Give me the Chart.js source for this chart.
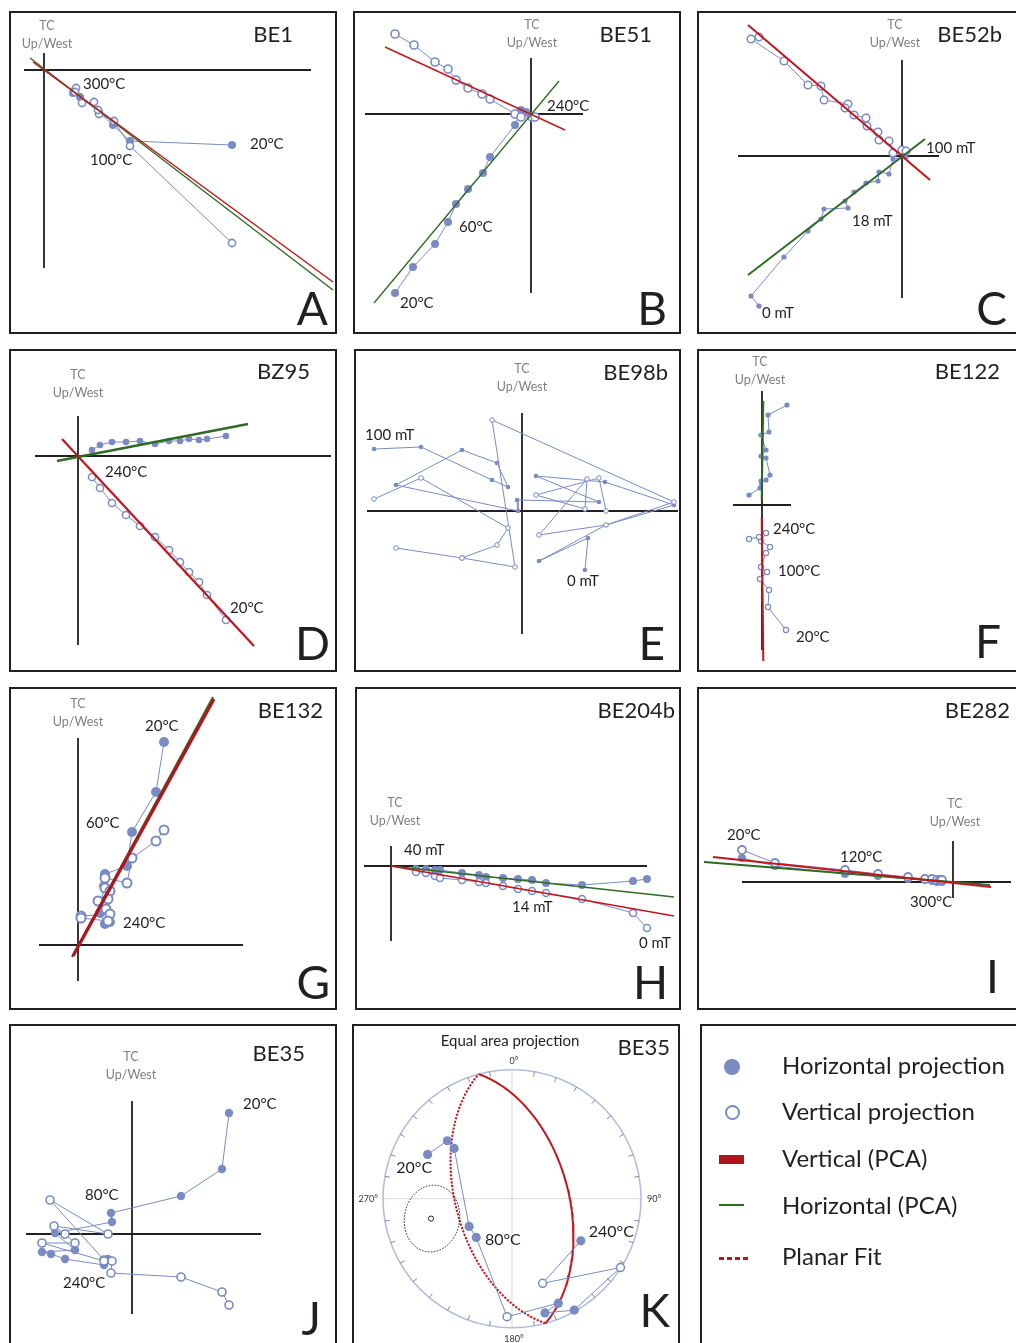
<!DOCTYPE html>
<html><head><meta charset="utf-8">
<script src="https://cdn.jsdelivr.net/npm/chart.js@4.4.1/dist/chart.umd.min.js"></script>
<style>
html,body{margin:0;padding:0;background:#fff;overflow:hidden;width:1016px;height:1343px;position:relative;}
.panel{position:absolute;overflow:hidden;}
.panel canvas{position:absolute;left:0;top:0;}
.frame{position:absolute;left:0;top:0;right:0;bottom:0;border:2px solid #231f20;box-sizing:border-box;pointer-events:none;}
.lg{position:absolute;left:82px;font:24px Lato,"Open Sans",sans-serif;line-height:28px;color:#231f20;white-space:nowrap;}
</style></head><body>
<script>
// ================= DATA (offsets from the plot origin) =================
const SAMPLES = ['BE1','BE51','BE52b','BZ95','BE98b','BE122','BE132','BE204b','BE282','BE35','BE35'];
const LETTERS = ['A','B','C','D','E','F','G','H','I','J','K'];

// A - BE1
const A_horiz = [[188,-75],[86,-71],[69,-55],[55,-42],[36,-27],[29,-23],[31,-20]];
const A_vert  = [[188,-173],[86,-76],[70,-51],[55,-44],[54,-40],[50,-32],[38,-33],[32,-18],[31,-22]];
const A_pcaVert  = [[-11,8],[289,-212]];
const A_pcaHoriz = [[-14,12],[289,-220]];
const A_steps = ['300°C','100°C','20°C'];

// B - BE51
const B_horiz = [[-136,-179],[-118,-153],[-96,-130],[-83,-108],[-75,-90],[-63,-75],[-48,-59],[-41,-43],[-16,-11],[-10,4],[-5,2]];
const B_vert  = [[-136,80],[-117,69],[-96,52],[-83,45],[-75,34],[-63,26],[-49,20],[-41,15],[-16,0],[-10,-3],[1,-3],[4,-3]];
const B_pcaVert  = [[-146,67],[34,-16]];
const B_pcaHoriz = [[-157,-189],[28,33]];
const B_steps = ['240°C','60°C','20°C'];

// C - BE52b
const C_horiz = [[-143,-150],[-151,-140],[-118,-101],[-94,-75],[-81,-63],[-78,-53],[-54,-52],[-57,-45],[-48,-36],[-36,-27],[-24,-25],[-23,-16],[-13,-18],[-9,-3],[4,-1]];
const C_vert  = [[-143,119],[-151,117],[-118,95],[-94,71],[-81,70],[-78,56],[-54,52],[-57,48],[-48,41],[-36,38],[-35,30],[-24,24],[-23,16],[-13,15],[-9,3],[0,6],[4,5]];
const C_pcaVert  = [[-154,131],[28,-24]];
const C_pcaHoriz = [[-154,-119],[23,17]];
const C_steps = ['100 mT','18 mT','0 mT'];

// D - BZ95
const D_horiz = [[14,6],[22,11],[34,14],[48,14],[62,15],[77,12],[91,15],[102,15],[111,17],[121,16],[129,17],[148,20]];
const D_vert  = [[14,-21],[22,-32],[34,-47],[48,-59],[62,-70],[77,-81],[91,-94],[102,-106],[111,-116],[121,-126],[129,-139],[148,-164]];
const D_pcaVert  = [[-16,17],[176,-190]];
const D_pcaHoriz = [[-21,-5],[170,32]];
const D_steps = ['240°C','20°C'];

// E - BE98b
const E_horiz = [[63,-59],[66,-27],[17,-50],[84,-14],[152,6],[83,29],[14,35],[77,9],[-5,11],[-4,0],[-126,26],[-60,61],[-25,48],[-14,24],[-30,31],[-101,64],[-148,62]];
const E_vert1 = [[-148,12],[-101,33],[-14,-17],[-25,-34],[-60,-47],[-126,-37]];
const E_vert2 = [[-60,-47],[-7,-56],[-30,91],[152,9],[84,-14],[17,-24],[65,32],[63,2],[14,16],[77,33],[84,0]];
const E_steps = ['100 mT','0 mT'];

// F - BE122
const F_horiz = [[25,100],[6,90],[7,73],[-1,70],[4,55],[-1,49],[4,47],[8,30],[4,25],[-1,24],[-2,17],[-13,10]];
const F_vert  = [[24,-125],[6,-102],[7,-85],[-2,-74],[5,-67],[-1,-62],[4,-48],[8,-42],[-1,-36],[4,-28],[-3,-32],[-13,-34]];
const F_pcaVert  = [[-0.3,-13],[1.3,-156]];
const F_pcaHoriz = [[1.3,104],[-0.3,5]];
const F_steps = ['240°C','100°C','20°C'];

// G - BE132
const G_horiz = [[86,203],[78,153],[54,113],[49,79],[27,71],[26,59],[22,32],[27,21],[32,23]];
const G_vert  = [[86,115],[78,104],[54,87],[49,62],[27,67],[27,57],[32,54],[20,44],[30,46],[28,36],[32,31],[3,29],[3,27],[30,24]];
const G_pcaVert  = [[-5,-11],[136,246]];
const G_pcaHoriz = [[-6,-12],[135,248]];
const G_steps = ['20°C','60°C','240°C'];

// H - BE204b
const H_horiz = [[25,-3],[35,-3],[44,-4],[49,-4],[71,-7],[88,-9],[95,-11],[112,-12],[127,-13],[141,-14],[155,-17],[191,-19],[242,-15],[256,-13]];
const H_vert  = [[25,-6],[35,-7],[44,-10],[49,-12],[71,-14],[88,-16],[95,-17],[112,-20],[127,-23],[141,-25],[155,-27],[191,-33],[242,-47],[256,-62]];
const H_pcaVert  = [[0,0],[283,-50]];
const H_pcaHoriz = [[0,0],[283,-31]];
const H_steps = ['40 mT','14 mT','0 mT'];

// I - BE282
const I_horiz = [[-211,24],[-178,16],[-108,8],[-75,6],[-45,3],[-28,2],[-21,1],[-16,0],[-11,0]];
const I_vert  = [[-211,32],[-178,19],[-108,12],[-75,8],[-45,5],[-28,3],[-21,3],[-16,2],[-13,2],[-11,2]];
const I_pcaVert  = [[-240,25],[38,-5]];
const I_pcaHoriz = [[-249,20],[37,-3]];
const I_steps = ['20°C','120°C','300°C'];

// J - BE35
const J_horiz = [[97,121],[90,65],[49,38],[-21,21],[-20,12],[-77,1],[-57,-16],[-90,-18],[-81,-20],[-67,-25],[-28,-31],[-24,-25]];
const J_vert  = [[97,-71],[90,-58],[49,-43],[-21,-39],[-20,-27],[-28,-26],[-82,34],[-24,0],[-78,8],[-67,0],[-57,-9],[-90,-9],[-28,-27]];
const J_steps = ['20°C','80°C','240°C'];

// K - BE35 equal-area projection (declination / inclination, degrees)
const K_dec = [297.7,311.9,311.0,237.1,222.7,182.4,156.1,163.9,150.8,122.4,160.1,121.5];
const K_inc = [27.0,33.2,40.3,57.5,56.4,-9.3,12.4,8.7,1.2,-0.5,-30.9,37.5];
const K_meanDec = 256.2, K_meanInc = 35.6;
const K_planeDipDir = 75, K_planeDip = 54;
const K_steps = ['20°C','80°C','240°C'];
const K_compass = ['0°','90°','180°','270°'];

const LEGEND_LABELS = ['Horizontal projection','Vertical projection','Vertical (PCA)','Horizontal (PCA)','Planar Fit'];

// ================= STYLE / LAYOUT =================
const FONT = 'Lato, "Open Sans", sans-serif';
const BLUE = '#7a8ac3', RED = '#c1161d', DRED = '#b3141b', GREEN = '#2e6b22', INK = '#231f20', GRAY = '#7f8083';

const Z = [
 {i:0, rect:[9,11,328,323], o:[35,59], axX:[-20,267], axY:[-198,17], H:[A_horiz], V:[A_vert], red:A_pcaVert, green:A_pcaHoriz, wR:1.5, wG:1.4, rH:4, rV:3.6, bV:1.6,
  steps:A_steps, stepPos:[[39,-14],[46,-90],[206,-74]], tc:[38,15], title:[284,24], letter:[319,314]},
 {i:1, rect:[353,11,328,323], o:[178,103], axX:[-166,52], axY:[-179,56], H:[B_horiz], V:[B_vert], red:B_pcaVert, green:B_pcaHoriz, wR:1.4, wG:1.3, rH:4, rV:4, bV:1.6,
  steps:B_steps, stepPos:[[16,8],[-72,-113],[-131,-189]], tc:[179,14], title:[299,24], letter:[314,314]},
 {i:2, rect:[697,11,322,323], o:[205,145], axX:[-164,37], axY:[-142,96], H:[C_horiz], V:[C_vert], red:C_pcaVert, green:C_pcaHoriz, wR:2, wG:2, rH:2.6, rV:3.8, bV:1.5,
  steps:C_steps, stepPos:[[24,8],[-50,-65],[-140,-157]], tc:[198,14], title:[305,24], letter:[310,314]},
 {i:3, rect:[9,349,328,323], o:[69,107], axX:[-43,253], axY:[-189,40], H:[D_horiz], V:[D_vert], red:D_pcaVert, green:D_pcaHoriz, wR:2.2, wG:2.4, rH:3.3, rV:3.6, bV:1.5,
  steps:D_steps, stepPos:[[27,-16],[152,-152]], tc:[69,26], title:[301,23], letter:[321,311]},
 {i:4, rect:[354,349,327,323], o:[168,162], axX:[-155,156], axY:[-123,98], H:[E_horiz], V:[E_vert1,E_vert2], red:null, green:null, rH:2.3, rV:2.3, bV:1,
  steps:E_steps, stepPos:[[-157,76],[45,-70]], tc:[168,20], title:[314,24], letter:[311,311]},
 {i:5, rect:[697,349,322,323], o:[65,156], axX:[-29,29], axY:[-145,114], H:[F_horiz], V:[F_vert], red:F_pcaVert, green:F_pcaHoriz, wR:2, wG:2, rH:2.6, rV:2.6, bV:1.2,
  steps:F_steps, stepPos:[[11,-24],[16,-66],[34,-132]], tc:[63,13], title:[303,23], letter:[304,309]},
 {i:6, rect:[9,687,328,323], o:[69,258], axX:[-39,165], axY:[-36,207], H:[G_horiz], V:[G_vert], red:G_pcaVert, green:G_pcaHoriz, wR:3.2, wG:2, rH:5, rV:4.5, bV:2,
  steps:G_steps, stepPos:[[67,219],[8,122],[45,22]], tc:[69,17], title:[314,24], letter:[321,312]},
 {i:7, rect:[355,687,326,323], o:[36,179], axX:[-27,256], axY:[-75,20], H:[H_horiz], V:[H_vert], red:H_pcaVert, green:H_pcaHoriz, wR:1.3, wG:1.3, rH:4, rV:3.5, bV:1.5,
  steps:H_steps, stepPos:[[13,16],[121,-41],[248,-77]], tc:[40,116], title:[320,24], letter:[313,312]},
 {i:8, rect:[697,687,322,323], o:[256,195], axX:[-211,58], axY:[-16,41], H:[I_horiz], V:[I_vert], red:I_pcaVert, green:I_pcaHoriz, wR:2, wG:1.8, rH:4, rV:4, bV:1.8,
  steps:I_steps, stepPos:[[-226,47],[-113,25],[-43,-20]], tc:[258,117], title:[313,24], letter:[302,306]},
 {i:9, rect:[9,1024,328,330], o:[123,210], axX:[-106,129], axY:[-80,133], H:[J_horiz], V:[J_vert], red:null, green:null, rH:4.2, rV:4, bV:1.6,
  steps:J_steps, stepPos:[[111,130],[-47,39],[-69,-49]], tc:[122,33], title:[296,30], letter:[312,311]}
];
const KL = {i:10, rect:[352,1024,328,330], o:[160,174.7], S:129, steps:K_steps, stepPos:[[-0.897,0.236],[-0.21,-0.32],[0.595,-0.256]],
  title:[318,24], letter:[318,303], head:[158,17], ellipse:[0.214,0.26,0.17]};

// ================= HELPERS =================
function pts(a){ return a.map(p => ({x:p[0], y:p[1]})); }
function makePanel(rect){
  const div = document.createElement('div'); div.className='panel';
  Object.assign(div.style,{left:rect[0]+'px',top:rect[1]+'px',width:rect[2]+'px',height:rect[3]+'px'});
  const cv = document.createElement('canvas'); cv.width=rect[2]; cv.height=rect[3];
  cv.style.width=rect[2]+'px'; cv.style.height=rect[3]+'px';
  div.appendChild(cv);
  const fr=document.createElement('div'); fr.className='frame'; div.appendChild(fr);
  document.body.appendChild(div);
  return {div, cv};
}
function eqArea(dec, inc){
  const r = Math.SQRT2*Math.sin((90-Math.abs(inc))*Math.PI/360);
  const d = dec*Math.PI/180;
  return {x:r*Math.sin(d), y:r*Math.cos(d)};
}
function greatCircle(dipDir, dip, lower){
  const out=[]; const s=(dipDir-90)*Math.PI/180, d=dipDir*Math.PI/180, dp=dip*Math.PI/180;
  for(let t=0;t<=180;t+=2){
    const tr=t*Math.PI/180;
    let n=Math.cos(tr)*Math.cos(s)+Math.sin(tr)*Math.cos(dp)*Math.cos(d);
    let e=Math.cos(tr)*Math.sin(s)+Math.sin(tr)*Math.cos(dp)*Math.sin(d);
    const dn=Math.sin(tr)*Math.sin(dp);
    if(!lower){n=-n;e=-e;}
    const pl=Math.asin(Math.min(1,dn));
    const r=Math.SQRT2*Math.sin((Math.PI/2-pl)/2);
    const h=Math.hypot(n,e)||1;
    out.push({x:r*e/h, y:r*n/h});
  }
  return out;
}

const textPlugin = {
  id:'panelText',
  beforeDatasetsDraw(chart){
    const P=chart.canvas.panel; if(!P || !P.net) return;
    const ctx=chart.ctx, sx=chart.scales.x, sy=chart.scales.y;
    const cx=sx.getPixelForValue(0), cy=sy.getPixelForValue(0), R=sx.getPixelForValue(1)-cx;
    ctx.save();
    ctx.strokeStyle='#cdcdcd'; ctx.lineWidth=0.8;
    ctx.beginPath(); ctx.moveTo(cx-R,cy); ctx.lineTo(cx+R,cy); ctx.moveTo(cx,cy-R); ctx.lineTo(cx,cy+R); ctx.stroke();
    ctx.strokeStyle='#b4bddb'; ctx.lineWidth=1.6;
    ctx.beginPath(); ctx.arc(cx,cy,R,0,Math.PI*2); ctx.stroke();
    ctx.strokeStyle='#6d6d6d'; ctx.lineWidth=0.8;
    for(let a=10;a<360;a+=10){ if(a%90===0) continue;
      const r=a*Math.PI/180, sn=Math.sin(r), cs=Math.cos(r);
      ctx.beginPath(); ctx.moveTo(cx+R*sn, cy-R*cs); ctx.lineTo(cx+(R-5)*sn, cy-(R-5)*cs); ctx.stroke(); }
    ctx.fillStyle='#333'; ctx.font='9px '+FONT; ctx.textBaseline='middle';
    ctx.textAlign='center'; ctx.fillText(K_compass[0], cx+2, cy-R-9); ctx.fillText(K_compass[2], cx+2, cy+R+11);
    ctx.textAlign='left'; ctx.fillText(K_compass[1], cx+R+6, cy);
    ctx.textAlign='right'; ctx.fillText(K_compass[3], cx-R-5, cy);
    ctx.restore();
  },
  afterDatasetsDraw(chart){
    const P=chart.canvas.panel; if(!P) return;
    const ctx=chart.ctx, sx=chart.scales.x, sy=chart.scales.y;
    ctx.save();
    if(P.net){
      const m=eqArea(K_meanDec,K_meanInc);
      const mx=sx.getPixelForValue(m.x), my=sy.getPixelForValue(m.y), R=sx.getPixelForValue(1)-sx.getPixelForValue(0);
      ctx.strokeStyle='#222'; ctx.lineWidth=1; ctx.setLineDash([1.6,1.4]);
      ctx.beginPath(); ctx.ellipse(mx+1,my,P.ellipse[0]*R,P.ellipse[1]*R,P.ellipse[2],0,Math.PI*2); ctx.stroke();
      ctx.setLineDash([]); ctx.fillStyle='#fff';
      ctx.beginPath(); ctx.arc(mx,my,2.6,0,Math.PI*2); ctx.fill(); ctx.stroke();
      ctx.fillStyle=INK; ctx.font='15px '+FONT; ctx.textAlign='center'; ctx.textBaseline='middle';
      ctx.fillText('Equal area projection', P.head[0], P.head[1]);
    }
    ctx.fillStyle=INK; ctx.textBaseline='middle'; ctx.textAlign='left'; ctx.font=(P.net?'16px ':'15px ')+FONT;
    (P.steps||[]).forEach((t,k)=>{ const p=P.stepPos[k]; ctx.fillText(t, sx.getPixelForValue(p[0]), sy.getPixelForValue(p[1])); });
    if(P.tc){ ctx.fillStyle=GRAY; ctx.font='12.5px '+FONT; ctx.textAlign='center';
      ctx.fillText('TC',P.tc[0],P.tc[1]); ctx.fillText('Up/West',P.tc[0],P.tc[1]+18); }
    ctx.fillStyle=INK; ctx.font='22px '+FONT; ctx.textAlign='right'; ctx.textBaseline='middle';
    ctx.fillText(SAMPLES[P.i],P.title[0],P.title[1]);
    ctx.font='46px '+FONT; ctx.textBaseline='alphabetic';
    ctx.fillText(LETTERS[P.i],P.letter[0],P.letter[1]);
    ctx.restore();
  }
};

function baseOptions(xmin,xmax,ymin,ymax){
  return {responsive:false, animation:false, events:[], devicePixelRatio:1, layout:{padding:0, autoPadding:false},
    plugins:{legend:{display:false}, tooltip:{enabled:false}},
    scales:{x:{type:'linear',display:false,min:xmin,max:xmax,offset:false}, y:{type:'linear',display:false,min:ymin,max:ymax,offset:false}}};
}
function lineDs(data,color,width,order,dash){
  return {data:pts(data), showLine:true, borderColor:color, borderWidth:width, pointRadius:0, order, borderDash:dash||[], tension:0};
}

// ================= BUILD ZIJDERVELD PANELS =================
Z.forEach(P=>{
  const {cv}=makePanel(P.rect); cv.panel=P;
  const [w,h]=[P.rect[2],P.rect[3]], [ox,oy]=P.o;
  const ds=[];
  ds.push(lineDs([[P.axX[0],0],[P.axX[1],0]],INK,1.8,9));
  ds.push(lineDs([[0,P.axY[0]],[0,P.axY[1]]],INK,1.8,9));
  P.H.forEach(path=>ds.push({data:pts(path), showLine:true, borderColor:BLUE, borderWidth:1, pointRadius:P.rH,
     pointBackgroundColor:BLUE, pointBorderColor:BLUE, pointBorderWidth:0, order:4}));
  P.V.forEach(path=>ds.push({data:pts(path), showLine:true, borderColor:BLUE, borderWidth:1, pointRadius:P.rV,
     pointBackgroundColor:'#ffffff', pointBorderColor:BLUE, pointBorderWidth:P.bV, order:3}));
  if(P.green) ds.push(lineDs(P.green,GREEN,P.wG,1));
  if(P.red) ds.push(lineDs(P.red,P.i===6?DRED:RED,P.wR,0));
  new Chart(cv,{type:'scatter', data:{datasets:ds}, options:baseOptions(-ox,w-ox,oy-h,oy), plugins:[textPlugin]});
});

// ================= EQUAL AREA PANEL (K) =================
(function(){
  const P=KL; P.net=true;
  const {cv}=makePanel(P.rect); cv.panel=P;
  const [w,h]=[P.rect[2],P.rect[3]], [ox,oy]=P.o, S=P.S;
  const proj=K_dec.map((d,k)=>eqArea(d,K_inc[k]));
  const ds=[
    {data:greatCircle(K_planeDipDir,K_planeDip,true), showLine:true, borderColor:RED, borderWidth:2, pointRadius:0, order:2},
    {data:greatCircle(K_planeDipDir,K_planeDip,false), showLine:true, borderColor:RED, borderWidth:2, borderDash:[2.2,1.4], pointRadius:0, order:2},
    {data:proj, showLine:true, borderColor:BLUE, borderWidth:1, order:0,
      pointRadius:K_inc.map(v=>v>=0?4.6:4), pointBorderWidth:K_inc.map(v=>v>=0?0:1.5),
      pointBackgroundColor:K_inc.map(v=>v>=0?BLUE:'#ffffff'), pointBorderColor:BLUE}
  ];
  new Chart(cv,{type:'scatter', data:{datasets:ds}, options:baseOptions(-ox/S,(w-ox)/S,(oy-h)/S,oy/S), plugins:[textPlugin]});
})();

// ================= LEGEND =================
(function(){
  const {div,cv}=makePanel([700,1024,320,330]); cv.remove();
  const mids=[27,72.8,119.5,166.6,218];
  const sym=[
    'left:24px;top:35px;width:16px;height:16px;border-radius:50%;background:'+BLUE,
    'left:24.5px;top:81px;width:15px;height:15px;border-radius:50%;box-sizing:border-box;border:2.6px solid '+BLUE+';background:#fff',
    'left:19px;top:130.5px;width:25px;height:9px;background:'+DRED,
    'left:19px;top:179.5px;width:25px;height:2px;background:'+GREEN,
    'left:19px;top:232.5px;width:31px;height:3px;background:repeating-linear-gradient(90deg,'+RED+' 0 5px,#fff 5px 8px)'
  ];
  LEGEND_LABELS.forEach((t,k)=>{
    const s=document.createElement('div'); s.style.cssText='position:absolute;'+sym[k]; div.appendChild(s);
    const d=document.createElement('div'); d.className='lg'; d.style.top=mids[k]+'px'; d.textContent=t; div.appendChild(d);
  });
})();
</script>
</body></html>
